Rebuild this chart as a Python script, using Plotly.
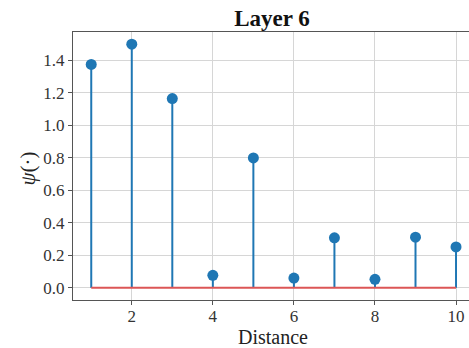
import plotly.graph_objects as go

distance = [1, 2, 3, 4, 5, 6, 7, 8, 9, 10]
psi = [1.375, 1.50, 1.165, 0.077, 0.80, 0.06, 0.308, 0.052, 0.312, 0.252]
x_ticks = [2, 4, 6, 8, 10]
y_ticks = [0.0, 0.2, 0.4, 0.6, 0.8, 1.0, 1.2, 1.4]
title = "Layer 6"
x_label = "Distance"
y_label = "<i>ψ</i>(·)"

BLUE = "#1f77b4"
RED = "#dc5656"
FONT = "Liberation Serif"

stem_x, stem_y = [], []
for xv, yv in zip(distance, psi):
    stem_x += [xv, xv, None]
    stem_y += [0, yv, None]

fig = go.Figure()
fig.add_trace(go.Scatter(x=stem_x, y=stem_y, mode="lines",
                         line=dict(color=BLUE, width=2), hoverinfo="skip",
                         showlegend=False))
fig.add_trace(go.Scatter(x=[distance[0], distance[-1]], y=[0, 0], mode="lines",
                         line=dict(color=RED, width=2), showlegend=False))
fig.add_trace(go.Scatter(x=distance, y=psi, mode="markers",
                         marker=dict(color=BLUE, size=11), showlegend=False))

W, H = 469, 348
L, T, R, B = 73, 32, 0, 48
fig.update_layout(
    width=W, height=H,
    margin=dict(l=L, r=R, t=T, b=B, autoexpand=False),
    paper_bgcolor="white", plot_bgcolor="white",
    font=dict(family=FONT, color="#333333", size=17),
    title=dict(text=f"<b>{title}</b>", x=272 / W, xanchor="center",
               y=1 - 18 / H, yanchor="middle", xref="container", yref="container",
               font=dict(family=FONT, size=23, color="#111111")),
    annotations=[
        dict(text=x_label, xref="paper", yref="paper", x=0.505, y=-0.139,
             xanchor="center", yanchor="middle", showarrow=False,
             font=dict(family=FONT, size=20, color="#222222")),
        dict(text=y_label, xref="paper", yref="paper", x=-0.114, y=0.49,
             xanchor="center", yanchor="middle", showarrow=False, textangle=-90,
             font=dict(family=FONT, size=21, color="#222222")),
    ],
)
fig.update_xaxes(
    range=[0.55, 10.32], tickvals=x_ticks, ticktext=[str(t) for t in x_ticks],
    showgrid=True, gridcolor="#d6d6d6", gridwidth=1,
    showline=True, linecolor="#555555", linewidth=1.3, mirror=True,
    ticks="outside", ticklen=4, tickcolor="#555555",
    tickfont=dict(family=FONT, size=17, color="#333333"),
    ticklabeloverflow="allow", ticklabelstandoff=-4,
    zeroline=False, automargin=False,
)
fig.update_yaxes(
    range=[-0.075, 1.575], tickvals=y_ticks, ticktext=[f"{t:.1f}" for t in y_ticks],
    showgrid=True, gridcolor="#d6d6d6", gridwidth=1,
    showline=True, linecolor="#555555", linewidth=1.3, mirror=False,
    ticks="outside", ticklen=4, tickcolor="#555555",
    tickfont=dict(family=FONT, size=17, color="#333333"),
    zeroline=False, automargin=False,
)

fig.write_html(
    "out.html",
    config={"displayModeBar": False},
    post_script="document.body.style.margin='0';document.body.style.overflow='hidden';",
)
